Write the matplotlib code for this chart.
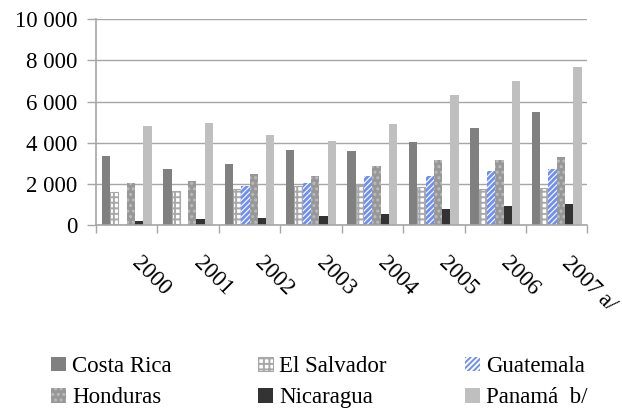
import numpy as np
import matplotlib
matplotlib.use("Agg")
import matplotlib.pyplot as plt
from matplotlib import transforms, font_manager
from matplotlib.ticker import FuncFormatter, FixedLocator

years = ["2000", "2001", "2002", "2003", "2004", "2005", "2006", "2007 a/"]
costa_rica = [3370, 2730, 2980, 3660, 3600, 4030, 4710, 5490]
el_salvador = [1610, 1660, 1760, 1900, 1940, 1840, 1780, 1800]
guatemala = [np.nan, np.nan, 1930, 2050, 2380, 2380, 2620, 2720]
honduras = [2050, 2150, 2490, 2390, 2870, 3160, 3160, 3310]
nicaragua = [240, 290, 360, 460, 570, 790, 960, 1060]
panama = [4830, 4940, 4360, 4100, 4900, 6330, 7010, 7700]

series_names = ["Costa Rica", "El Salvador", "Guatemala", "Honduras", "Nicaragua", "Panamá  b/"]
series_values = [costa_rica, el_salvador, guatemala, honduras, nicaragua, panama]

# pick a Times-like serif font that is really installed
names = {f.name for f in font_manager.fontManager.ttflist}
serif = None
for cand in ["Liberation Serif", "Times New Roman", "Nimbus Roman", "Tinos", "DejaVu Serif"]:
    if cand in names:
        serif = cand
        break
if serif is None:
    serif = "DejaVu Serif"
plt.rcParams['font.family'] = [serif, 'DejaVu Serif']
plt.rcParams['hatch.linewidth'] = 1.4

styles = [
    dict(color="#808080", linewidth=0),
    dict(facecolor="white", edgecolor="#a8a8a8", hatch="+++", linewidth=0.8),
    dict(facecolor="white", edgecolor="#6f8ff5", hatch="//////", linewidth=0),
    dict(facecolor="#979797", edgecolor="#bcbcbc", hatch="...", linewidth=0),
    dict(color="#333333", linewidth=0),
    dict(color="#bfbfbf", linewidth=0),
]

fig = plt.figure(figsize=(6.22, 4.09), dpi=100)
ax = fig.add_axes([0.1543, 0.4487, 0.9443 - 0.1543, 0.9535 - 0.4487])

x = np.arange(len(years))
w = 0.135
handles = []
for i, (name, vals, st) in enumerate(zip(series_names, series_values, styles)):
    b = ax.bar(x + (i - 2.5) * w, vals, width=w, label=name, zorder=2, **st)
    if i == 2:
        for p in b.patches:
            try:
                p.set_hatch_linewidth(2.0)
            except Exception:
                pass
    handles.append(b)

ax.set_xlim(-0.5, len(years) - 0.5)
ax.set_ylim(0, 10000)
ax.set_yticks(np.arange(0, 10001, 2000))
ax.yaxis.set_major_formatter(FuncFormatter(lambda v, p: f"{int(v):,}".replace(",", " ")))
ax.grid(axis='y', color="#a6a6a6", linewidth=1.0, zorder=0)
ax.set_axisbelow(True)

for s in ["top", "right"]:
    ax.spines[s].set_visible(False)
for s in ["left", "bottom"]:
    ax.spines[s].set_color("#a6a6a6")
    ax.spines[s].set_linewidth(1.2)

ax.tick_params(axis='y', direction='out', length=6.5, width=1.0, color="#a6a6a6",
               labelsize=16.5, pad=7)
for t in ax.get_yticklabels():
    t.set_fontfamily([serif, 'DejaVu Serif'])
ax.set_xticks([])
ax.xaxis.set_minor_locator(FixedLocator(np.arange(-0.5, len(years), 1.0)))
ax.tick_params(axis='x', which='minor', direction='out', length=5.5, width=1.0, color="#a6a6a6")

base = transforms.blended_transform_factory(ax.transData, ax.transAxes)
lab_trans = transforms.offset_copy(base, fig=fig, x=16, y=-27, units='dots')
for xi, lab in zip(x, years):
    ax.text(xi, 0, lab, transform=lab_trans, rotation=-45, rotation_mode='anchor',
            ha='left', va='top', fontsize=16.5, family=[serif, 'DejaVu Serif'])

cols = [(0, 3), (1, 4), (2, 5)]
col_x = [51, 258, 465]
top_px = 356
for (a, b), cx in zip(cols, col_x):
    leg = fig.legend([handles[a], handles[b]], [series_names[a], series_names[b]],
                     loc='upper left', bbox_to_anchor=(cx / 622, 1 - top_px / 409),
                     frameon=False, borderpad=0, borderaxespad=0,
                     handlelength=0.65, handleheight=0.61, handletextpad=0.26,
                     labelspacing=0.45, prop={'family': [serif, 'DejaVu Serif'], 'size': 16.5})

fig.savefig("out.png", dpi=100)
